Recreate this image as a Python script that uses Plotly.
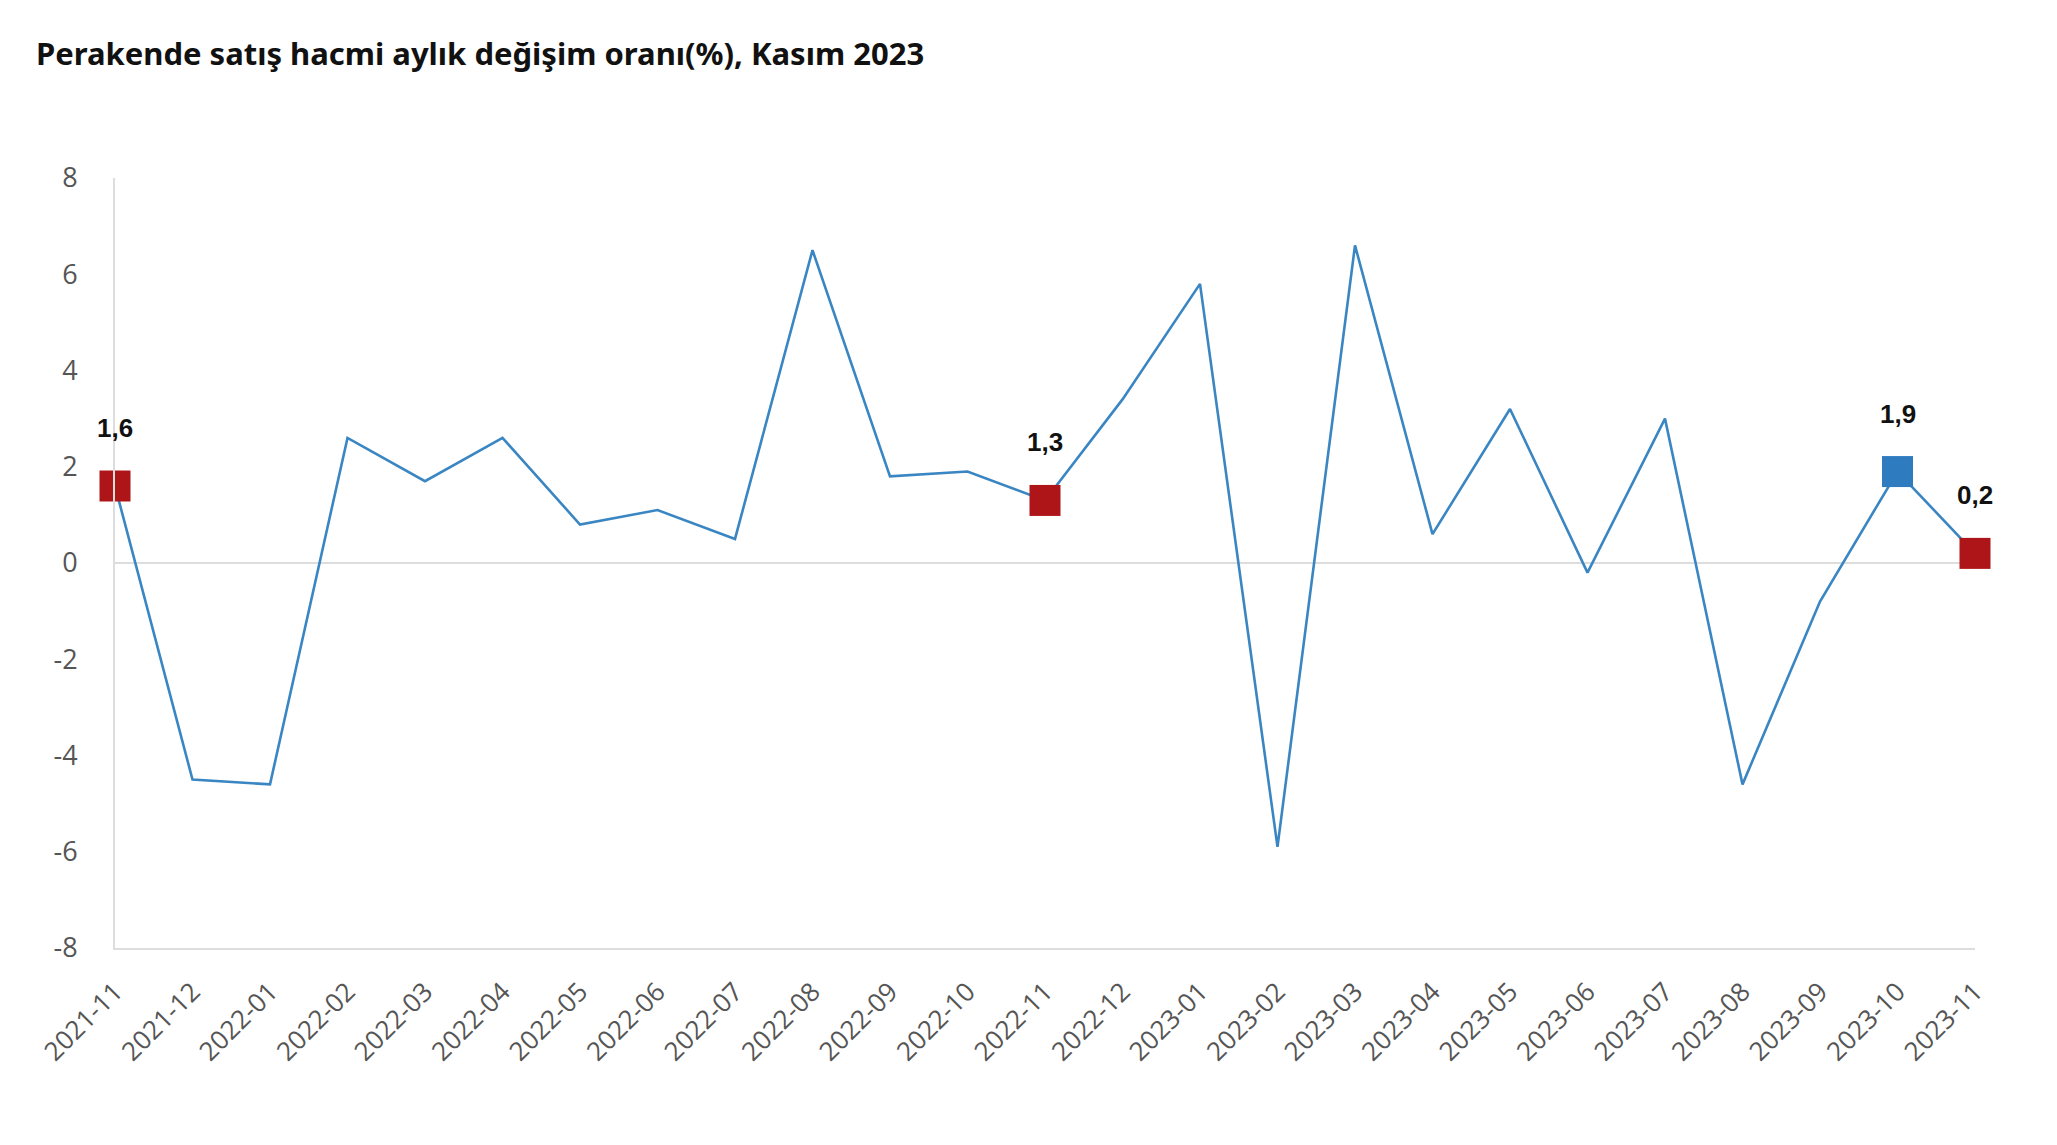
import plotly.graph_objects as go

months = ["2021-11", "2021-12", "2022-01", "2022-02", "2022-03", "2022-04", "2022-05",
          "2022-06", "2022-07", "2022-08", "2022-09", "2022-10", "2022-11", "2022-12",
          "2023-01", "2023-02", "2023-03", "2023-04", "2023-05", "2023-06", "2023-07",
          "2023-08", "2023-09", "2023-10", "2023-11"]
values = [1.6, -4.5, -4.6, 2.6, 1.7, 2.6, 0.8, 1.1, 0.5, 6.5, 1.8, 1.9, 1.3, 3.4,
          5.8, -5.9, 6.6, 0.6, 3.2, -0.2, 3.0, -4.6, -0.8, 1.9, 0.2]

highlight_months = ["2021-11", "2022-11", "2023-10", "2023-11"]
highlight_colors = ["#AE1519", "#AE1519", "#2E7BBF", "#AE1519"]
highlight_labels = ["1,6", "1,3", "1,9", "0,2"]

y_ticks = [8, 6, 4, 2, 0, -2, -4, -6, -8]

idx = list(range(len(months)))
hi_idx = [months.index(m) for m in highlight_months]
hi_vals = [values[i] for i in hi_idx]

fig = go.Figure()
fig.add_trace(go.Scatter(
    x=idx, y=values, mode="lines",
    line=dict(color="#3A86C3", width=2.6),
    hoverinfo="skip", showlegend=False, cliponaxis=False,
))
fig.add_trace(go.Scatter(
    x=hi_idx, y=hi_vals, mode="markers",
    marker=dict(symbol="square", size=31, color=highlight_colors,
                line=dict(width=0)),
    showlegend=False, cliponaxis=False,
))
for i, v, lab in zip(hi_idx, hi_vals, highlight_labels):
    fig.add_annotation(x=i, y=v, text=lab, showarrow=False, yshift=58,
                       font=dict(family="Liberation Sans", size=26, color="#111111",
                                 weight="bold"))

fig.update_layout(
    width=2057, height=1145,
    margin=dict(l=107, r=90, t=170, b=205),
    paper_bgcolor="white", plot_bgcolor="white",
    title=dict(text="<b>Perakende satış hacmi aylık değişim oranı(%), Kasım 2023</b>",
               x=28/2057, xref="container", xanchor="left",
               y=1 - 46/1145, yref="container", yanchor="middle",
               font=dict(family="Noto Sans", size=31, color="#111111")),
)

fig.update_xaxes(
    range=[0, len(months) - 1],
    tickmode="array", tickvals=idx, ticktext=months,
    tickangle=-45,
    tickfont=dict(family="Open Sans", size=26, color="#555555"),
    showgrid=False, zeroline=False,
    showline=True, linecolor="#DDDDDD", linewidth=2,
    ticks="", ticklabelstandoff=16,
)
fig.update_yaxes(
    range=[-8, 8],
    tickmode="array", tickvals=y_ticks, ticktext=[str(t) for t in y_ticks],
    tickfont=dict(family="Open Sans", size=27, color="#555555"),
    showgrid=False,
    zeroline=True, zerolinecolor="#DDDDDD", zerolinewidth=2,
    showline=True, linecolor="#DDDDDD", linewidth=2,
    ticks="", ticklabelstandoff=30,
)

fig.write_html("out.html")
